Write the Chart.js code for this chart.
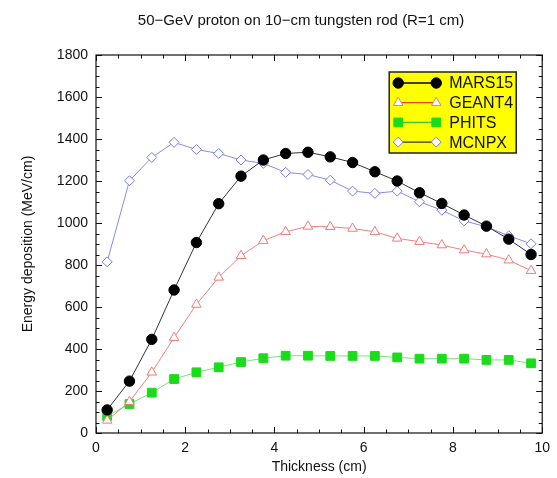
<!DOCTYPE html>
<html>
<head>
<meta charset="utf-8">
<script src="https://cdn.jsdelivr.net/npm/chart.js@4.4.0/dist/chart.umd.min.js"></script>
<style>
  html, body { margin: 0; padding: 0; background: #fff; }
</style>
</head>
<body>
<canvas id="chart" width="557" height="478"></canvas>
<script>
// thickness bins (cm), bin centres
const thickness = [0.25, 0.75, 1.25, 1.75, 2.25, 2.75, 3.25, 3.75, 4.25, 4.75,
                   5.25, 5.75, 6.25, 6.75, 7.25, 7.75, 8.25, 8.75, 9.25, 9.75];
// energy deposition (MeV/cm)
const mars15 = [110, 247, 446, 681, 907, 1092, 1223, 1300, 1331, 1337,
                1315, 1288, 1244, 1200, 1144, 1093, 1038, 985, 923, 850];
const geant4 = [60, 149, 289, 454, 612, 741, 844, 916, 958, 984,
                982, 974, 958, 927, 911, 895, 871, 852, 823, 773];
const phits  = [81, 138, 192, 257, 289, 313, 338, 356, 368, 368,
                367, 367, 367, 360, 354, 354, 354, 348, 348, 332];
const mcnpx  = [815, 1201, 1312, 1384, 1350, 1331, 1300, 1284, 1241, 1231,
                1204, 1152, 1141, 1152, 1101, 1061, 1010, 982, 939, 901];
const seriesNames = ["MARS15", "GEANT4", "PHITS", "MCNPX"];
const xTicks = [0, 2, 4, 6, 8, 10];
const yTicks = [0, 200, 400, 600, 800, 1000, 1200, 1400, 1600, 1800];

const FONT = "'Liberation Sans', Arial, Helvetica, sans-serif";
Chart.defaults.font.family = FONT;
Chart.defaults.color = "#111";

const pts = arr => arr.map((v, i) => ({ x: thickness[i], y: v }));

// inward ticks on all four sides + frame, plus the yellow legend and title
const framePlugin = {
    id: "frame",
    afterDraw(chart) {
        const ctx = chart.ctx;
        const a = chart.chartArea;
        const xs = chart.scales.x, ys = chart.scales.y;
        ctx.save();
        ctx.strokeStyle = "#111";
        ctx.lineWidth = 1.2;
        ctx.strokeRect(a.left, a.top, a.right - a.left, a.bottom - a.top);

        ctx.lineWidth = 1;
        ctx.beginPath();
        for (let v = xs.min; v <= xs.max + 1e-9; v += 0.5) {
            const px = Math.round(xs.getPixelForValue(v)) + 0.5;
            const len = Math.abs(v % 2) < 1e-9 ? 6 : 3.5;
            ctx.moveTo(px, a.bottom); ctx.lineTo(px, a.bottom - len);
            ctx.moveTo(px, a.top); ctx.lineTo(px, a.top + len);
        }
        for (let v = ys.min; v <= ys.max + 1e-9; v += 50) {
            const py = Math.round(ys.getPixelForValue(v)) + 0.5;
            const len = Math.abs(v % 200) < 1e-9 ? 6 : 3.5;
            ctx.moveTo(a.left, py); ctx.lineTo(a.left + len, py);
            ctx.moveTo(a.right, py); ctx.lineTo(a.right - len, py);
        }
        ctx.stroke();

        // title
        ctx.fillStyle = "#111";
        ctx.font = "15px " + FONT;
        ctx.textAlign = "center";
        ctx.textBaseline = "middle";
        ctx.fillText("50\u2212GeV proton on 10\u2212cm tungsten rod (R=1 cm)", 301, 21);

        // legend box
        const bx = a.right - 153, by = a.top + 17, bw = 127, bh = 81;
        ctx.fillStyle = "#ffff00";
        ctx.fillRect(bx, by, bw, bh);
        ctx.strokeStyle = "#222";
        ctx.lineWidth = 1.5;
        ctx.strokeRect(bx, by, bw, bh);
        ctx.font = "16px " + FONT;
        ctx.textAlign = "left";
        chart.data.datasets.forEach((ds, i) => {
            const yy = by + 11 + i * 19.7;
            ctx.strokeStyle = ds.legendLine;
            ctx.lineWidth = 1.3;
            ctx.beginPath();
            ctx.moveTo(bx + 9, yy); ctx.lineTo(bx + 47, yy);
            ctx.stroke();
            const st = {
                pointStyle: ds.pointStyle,
                radius: ds.pointRadius,
                borderWidth: ds.pointBorderWidth,
                rotation: 0
            };
            ctx.fillStyle = ds.pointBackgroundColor;
            ctx.strokeStyle = ds.pointBorderColor;
            ctx.lineWidth = ds.pointBorderWidth;
            Chart.helpers.drawPoint(ctx, st, bx + 9, yy);
            Chart.helpers.drawPoint(ctx, st, bx + 47, yy);
            ctx.fillStyle = "#111";
            ctx.fillText(ds.label, bx + 60, yy + 1);
        });
        ctx.restore();
    }
};

new Chart(document.getElementById("chart"), {
    type: "line",
    data: {
        datasets: [
            {
                label: seriesNames[0], data: pts(mars15),
                borderColor: "#333", borderWidth: 1,
                pointStyle: "circle", pointRadius: 5.2, pointBorderWidth: 1,
                pointBackgroundColor: "#000", pointBorderColor: "#000",
                legendLine: "#000"
            },
            {
                label: seriesNames[1], data: pts(geant4),
                borderColor: "#f08080", borderWidth: 1,
                pointStyle: "triangle", pointRadius: 5.5, pointBorderWidth: 1,
                pointBackgroundColor: "#fff", pointBorderColor: "#ef7a7a",
                legendLine: "#e0451f"
            },
            {
                label: seriesNames[2], data: pts(phits),
                borderColor: "#7fe07f", borderWidth: 1,
                pointStyle: "rect", pointRadius: 6.2, pointBorderWidth: 1,
                pointBackgroundColor: "#19dd19", pointBorderColor: "#19dd19",
                legendLine: "#33cc33"
            },
            {
                label: seriesNames[3], data: pts(mcnpx),
                borderColor: "#8a8ae8", borderWidth: 1,
                pointStyle: "rectRot", pointRadius: 5, pointBorderWidth: 1,
                pointBackgroundColor: "#fff", pointBorderColor: "#7b7be0",
                legendLine: "#333"
            }
        ]
    },
    options: {
        responsive: false,
        animation: false,
        layout: { padding: { top: 55, right: 10, left: 0, bottom: 0 } },
        plugins: {
            legend: { display: false },
            title: { display: false },
            tooltip: { enabled: false }
        },
        elements: { line: { tension: 0 } },
        scales: {
            x: {
                type: "linear", min: 0, max: 10,
                grid: { display: false, drawTicks: false },
                border: { display: false },
                afterBuildTicks: s => { s.ticks = xTicks.map(v => ({ value: v })); },
                afterFit: s => { s.height = 45; },
                ticks: { padding: 7, font: { size: 14 }, color: "#111", maxRotation: 0, callback: v => String(v) },
                title: { display: true, text: "Thickness (cm)", font: { size: 14 }, color: "#111", padding: { top: 0, bottom: 2 } }
            },
            y: {
                type: "linear", min: 0, max: 1800,
                grid: { display: false, drawTicks: false },
                border: { display: false },
                afterBuildTicks: s => { s.ticks = yTicks.map(v => ({ value: v })); },
                afterFit: s => { s.width = 96; },
                ticks: { padding: 8, font: { size: 14 }, color: "#111", callback: v => String(v) },
                title: { display: true, text: "Energy deposition (MeV/cm)", font: { size: 14 }, color: "#111", padding: { top: 20, bottom: 0 } }
            }
        }
    },
    plugins: [framePlugin]
});
</script>
</body>
</html>
